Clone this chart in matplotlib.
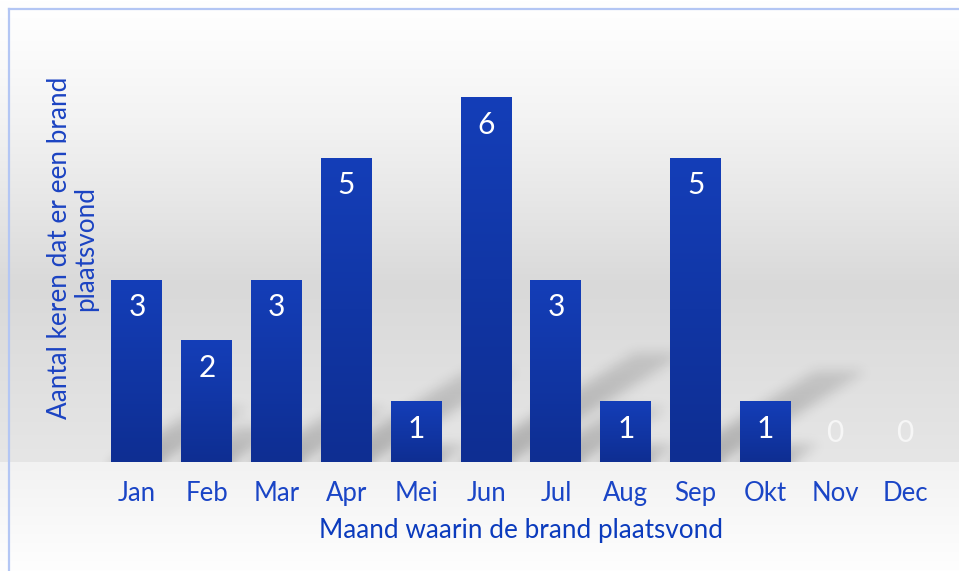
import numpy as np
import matplotlib
matplotlib.use('Agg')
import matplotlib.pyplot as plt

months = ['Jan', 'Feb', 'Mar', 'Apr', 'Mei', 'Jun', 'Jul', 'Aug', 'Sep', 'Okt', 'Nov', 'Dec']
counts = [3, 2, 3, 5, 1, 6, 3, 1, 5, 1, 0, 0]
x_title = 'Maand waarin de brand plaatsvond'
y_title = 'Aantal keren dat er een brand\nplaatsvond'

plt.rcParams['font.family'] = ['Lato', 'DejaVu Sans']

W, H = 959, 571
fig = plt.figure(figsize=(W / 100, H / 100), dpi=100)

# ---- figure background gradient ----
ys = np.arange(H, dtype=float)
g = np.where(ys < 285, 255 + (217 - 255) * (ys / 285) ** 1.3,
             np.where(ys < 462, 217 + (230 - 217) * (ys - 285) / 177,
                      242 + (254 - 242) * (ys - 462) / 108))
g = np.clip(g, 0, 255) / 255.0
bgimg = np.repeat(np.repeat(g[:, None, None], W, axis=1), 3, axis=2)
bg = fig.add_axes([0, 0, 1, 1], zorder=-10)
bg.imshow(bgimg, extent=[0, W, H, 0], aspect='auto', interpolation='bilinear')
bg.plot([8.5, W], [8.5, 8.5], color='#b3c6f4', lw=1.6)
bg.plot([8.5, 8.5], [8.5, H], color='#b3c6f4', lw=1.6)
bg.set_xlim(0, W)
bg.set_ylim(H, 0)
bg.axis('off')

# ---- main axes ----
ax = fig.add_axes([102 / W, 109 / H, 838 / W, (462 - 66.6) / H])
ax.patch.set_visible(False)
x = np.arange(len(months))
ax.set_xlim(-0.5, len(months) - 0.5)
ax.set_ylim(0, 6.5)
for s in ax.spines.values():
    s.set_visible(False)
ax.set_yticks([])
ax.set_xticks(x)
ax.set_xticklabels(months, fontsize=18.5, color='#1a45c6')
ax.tick_params(axis='x', length=0, pad=14)
ax.set_xlabel(x_title, fontsize=18.8, color='#0b3bbd', labelpad=8)
ax.set_ylabel(y_title, fontsize=18.8, color='#1b43c2', linespacing=1.02)
ax.yaxis.set_label_coords(-0.005, 0.541)

bw = 0.73
bars = ax.bar(x, counts, width=bw, color='none', edgecolor='none', zorder=3)

# gradient fill of bars
grad = np.linspace(0, 1, 100)[:, None]
top_c = np.array([0x14, 0x3e, 0xb8]) / 255
bot_c = np.array([0x0e, 0x2e, 0x92]) / 255
gimg = (top_c[None, None, :] * (1 - grad[:, :, None]) + bot_c[None, None, :] * grad[:, :, None])
for b, v in zip(bars, counts):
    if v <= 0:
        continue
    x0 = b.get_x()
    im = ax.imshow(gimg, extent=[x0, x0 + bw, 0, v], aspect='auto', zorder=3,
                   interpolation='bilinear', origin='upper')
    im.set_clip_path(b)
ax.set_xlim(-0.5, len(months) - 0.5)
ax.set_ylim(0, 6.5)

# ---- blurred diagonal shadows ----
x0p, y0p, x1p, y1p = ax.bbox.extents
nx, ny = int(round(x1p - x0p)), int(round(y1p - y0p))
alpha = np.zeros((ny, nx))
cols = np.arange(nx)
k = 1.6
for b, v in zip(bars, counts):
    if v <= 0:
        continue
    (lx, by), (rx, ty) = ax.transData.transform([(b.get_x(), 0), (b.get_x() + bw, v)])
    lx -= x0p
    rx -= x0p
    hpx = ty - by
    Ls = 0.3 * hpx
    for t in range(int(Ls)):
        a = 0.24 * (1 - 0.5 * t / Ls)
        m = (cols >= lx + k * t) & (cols <= rx + k * t)
        alpha[t, m] = np.maximum(alpha[t, m], a)

def blur(a, sigma):
    r = int(3 * sigma)
    kx = np.exp(-0.5 * (np.arange(-r, r + 1) / sigma) ** 2)
    kx /= kx.sum()
    p = np.pad(a, ((r, r), (r, r)), mode='edge')
    p = np.apply_along_axis(lambda c: np.convolve(c, kx, mode='same'), 0, p)
    p = np.apply_along_axis(lambda c: np.convolve(c, kx, mode='same'), 1, p)
    return p[r:-r, r:-r]

alpha = blur(alpha, 6)
shimg = np.zeros((ny, nx, 4))
shimg[..., 3] = alpha
ax.imshow(shimg, extent=[-0.5, len(months) - 0.5, 0, 6.5], origin='lower',
          aspect='auto', zorder=1, interpolation='bilinear')
ax.set_xlim(-0.5, len(months) - 0.5)
ax.set_ylim(0, 6.5)

# ---- value labels ----
for xi, v in zip(x, counts):
    off = -27.5 if v > 0 else 29
    ax.annotate(str(v), (xi, v), xytext=(0, off * 0.72), textcoords='offset points',
                ha='center', va='center', fontsize=21.5,
                color='white' if v > 0 else '#f6f6f6', zorder=5)

fig.savefig('out.png', dpi=100)
